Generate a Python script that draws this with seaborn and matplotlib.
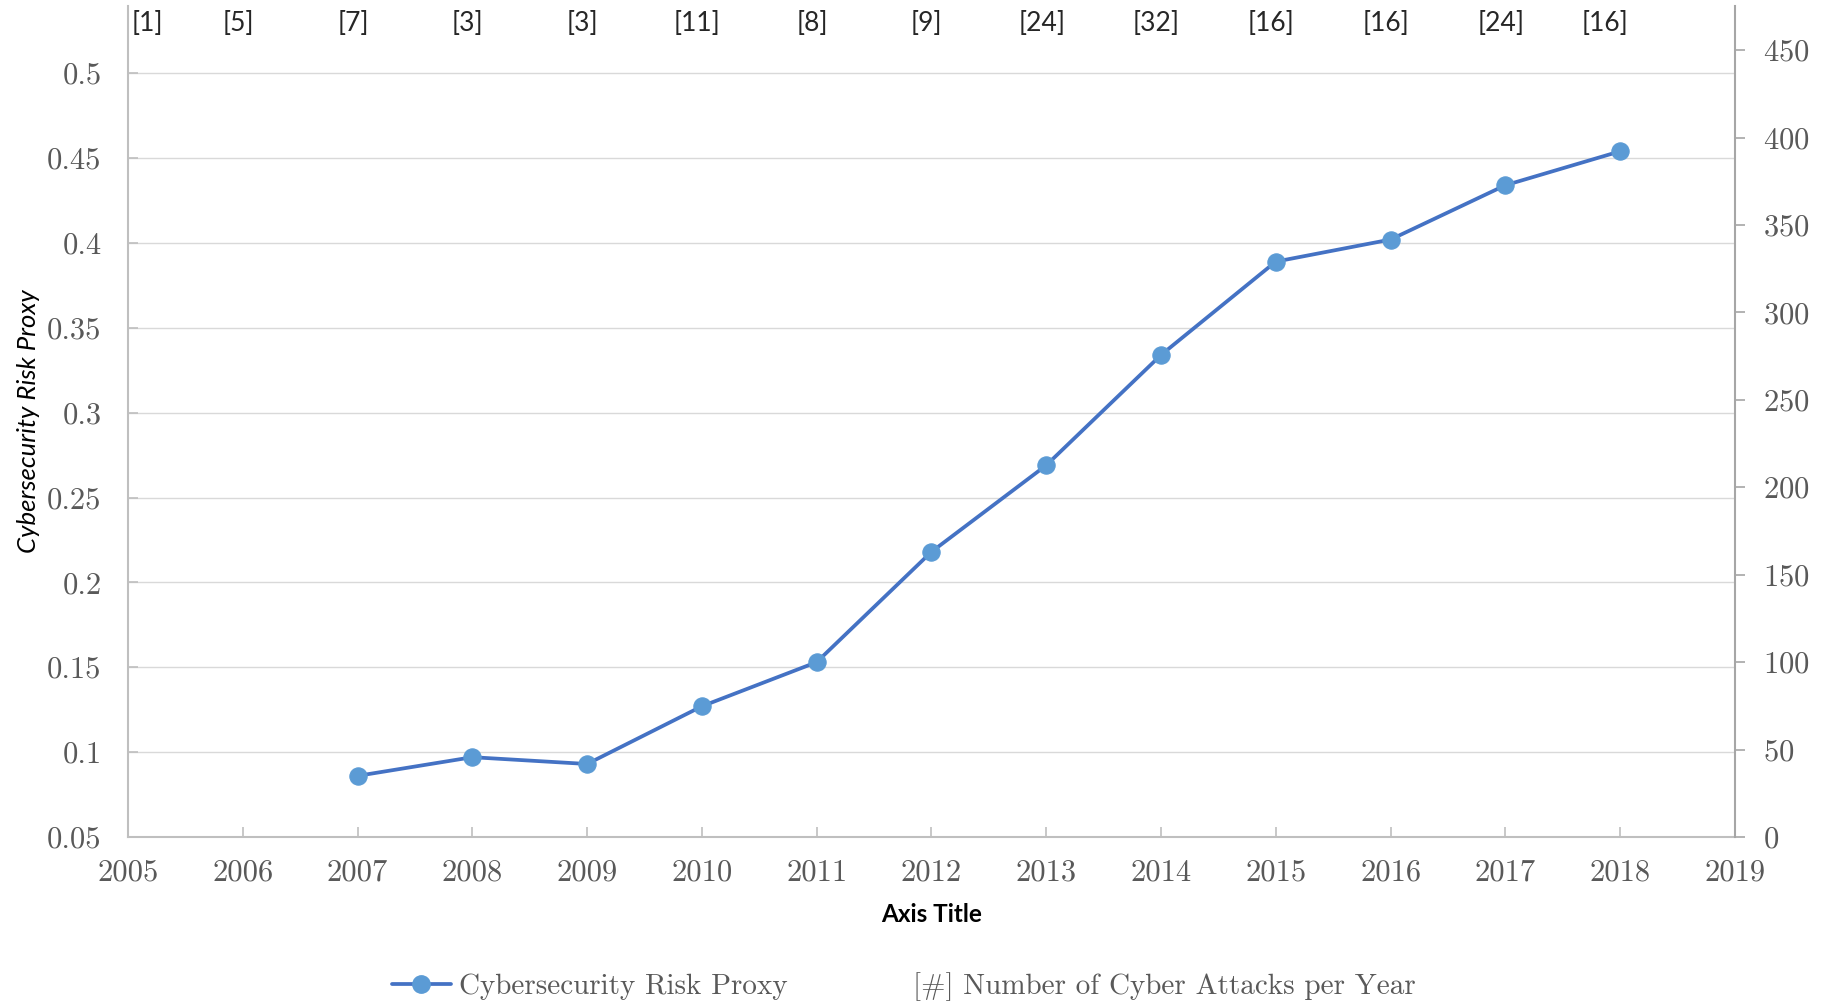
import matplotlib
matplotlib.use("Agg")
import matplotlib.pyplot as plt
import matplotlib.ticker as mticker
from matplotlib.lines import Line2D
import seaborn as sns
import pandas as pd

# ---- data ----
years = [2007, 2008, 2009, 2010, 2011, 2012, 2013, 2014, 2015, 2016, 2017, 2018]
risk_proxy = [0.086, 0.097, 0.093, 0.127, 0.153, 0.218, 0.269, 0.334, 0.389, 0.402, 0.434, 0.454]
attack_years = [2005, 2006, 2007, 2008, 2009, 2010, 2011, 2012, 2013, 2014, 2015, 2016, 2017, 2018]
attack_counts = [1, 5, 7, 3, 3, 11, 8, 9, 24, 32, 16, 16, 24, 16]
attack_label_level = 465  # right-axis level of the attack labels
left_ticks = [0.05, 0.1, 0.15, 0.2, 0.25, 0.3, 0.35, 0.4, 0.45, 0.5]
right_ticks = [0, 50, 100, 150, 200, 250, 300, 350, 400, 450]
x_ticks = list(range(2005, 2020))

df = pd.DataFrame({"Year": years, "Risk": risk_proxy})

sns.set_theme(style="white")
plt.rcParams["axes.formatter.use_mathtext"] = True

SERIF = "cmr10"
SANS = ["Lato", "DejaVu Sans"]
LINE_C = "#4472C4"
MARK_C = "#5B9BD5"
GRID_C = "#D9D9D9"
SPINE_C = "#BFBFBF"
TXT_C = "#595959"

fig = plt.figure(figsize=(18.23, 10.05), dpi=100)
ax = fig.add_axes([0.0702, 0.1672, 0.8815, 0.8270])
ax.set_facecolor("white")

sns.lineplot(data=df, x="Year", y="Risk", ax=ax, color=LINE_C, linewidth=2.7,
             marker="o", markersize=12.5, markerfacecolor=MARK_C, markeredgecolor=MARK_C,
             zorder=3)

ax.set_xlim(2005, 2019)
ax.set_ylim(0.05, 0.5397)
ax.set_xticks(x_ticks)
ax.set_yticks(left_ticks)
ax.yaxis.set_major_formatter(mticker.FuncFormatter(lambda v, p: f"{v:g}"))
ax.xaxis.set_major_formatter(mticker.FuncFormatter(lambda v, p: f"{int(round(v))}"))
ax.grid(axis="y", color=GRID_C, linewidth=1.0)
ax.grid(axis="x", visible=False)

for s in ["top", "right"]:
    ax.spines[s].set_visible(False)
for s in ["left", "bottom"]:
    ax.spines[s].set_color(SPINE_C)
    ax.spines[s].set_linewidth(1.5)

ax.tick_params(axis="y", direction="in", length=7, width=1.2, color=SPINE_C, left=True,
               labelsize=22, labelcolor=TXT_C, pad=19)
ax.tick_params(axis="x", direction="in", length=7, width=1.2, color=SPINE_C, bottom=True,
               labelsize=22, labelcolor=TXT_C, pad=16)
for lbl in ax.get_xticklabels() + ax.get_yticklabels():
    lbl.set_fontfamily(SERIF)

ax.set_xlabel("Axis Title", fontsize=17.5, fontweight="bold", family=SANS, color="black",
              labelpad=12)
ax.set_ylabel("Cybersecurity Risk Proxy", fontsize=18.5, style="italic", family=SANS,
              color="black")
ax.yaxis.set_label_coords(-0.055, 0.5)

# right axis
ax2 = ax.twinx()
ax2.set_ylim(0, 475.3)
ax2.set_yticks(right_ticks)
ax2.grid(False)
for s in ["top", "left", "bottom"]:
    ax2.spines[s].set_visible(False)
ax2.spines["right"].set_color("#A6A6A6")
ax2.spines["right"].set_linewidth(1.5)
ax2.tick_params(axis="y", direction="out", length=7, width=1.2, color="#A6A6A6", right=True,
                labelsize=22, labelcolor=TXT_C, pad=13)
for lbl in ax2.get_yticklabels():
    lbl.set_fontfamily(SERIF)

# attack count labels
for i, (yr, c) in enumerate(zip(attack_years, attack_counts)):
    if i == 0:
        xo, ha = 0.03, "left"
    elif i == len(attack_years) - 1:
        xo, ha = -0.13, "center"
    else:
        xo, ha = -0.04, "center"
    ax2.text(yr + xo, attack_label_level, f"[{c}]", ha=ha, va="center", fontsize=19,
             family=SANS, color="#262626")

# legend
handles = [
    Line2D([0], [0], color=LINE_C, linewidth=2.7, marker="o", markersize=12.5,
           markerfacecolor=MARK_C, markeredgecolor=MARK_C),
    Line2D([0], [0], color="none", marker=None),
]
labels = ["Cybersecurity Risk Proxy", "[#] Number of Cyber Attacks per Year"]
leg = fig.legend(handles, labels, loc="lower center", bbox_to_anchor=(0.496, -0.022), ncol=2,
                 frameon=False, prop={"family": SERIF, "size": 21}, handlelength=2.0,
                 handletextpad=0.3, columnspacing=2.0)
for t in leg.get_texts():
    t.set_color(TXT_C)

fig.savefig("out.png", dpi=100)
